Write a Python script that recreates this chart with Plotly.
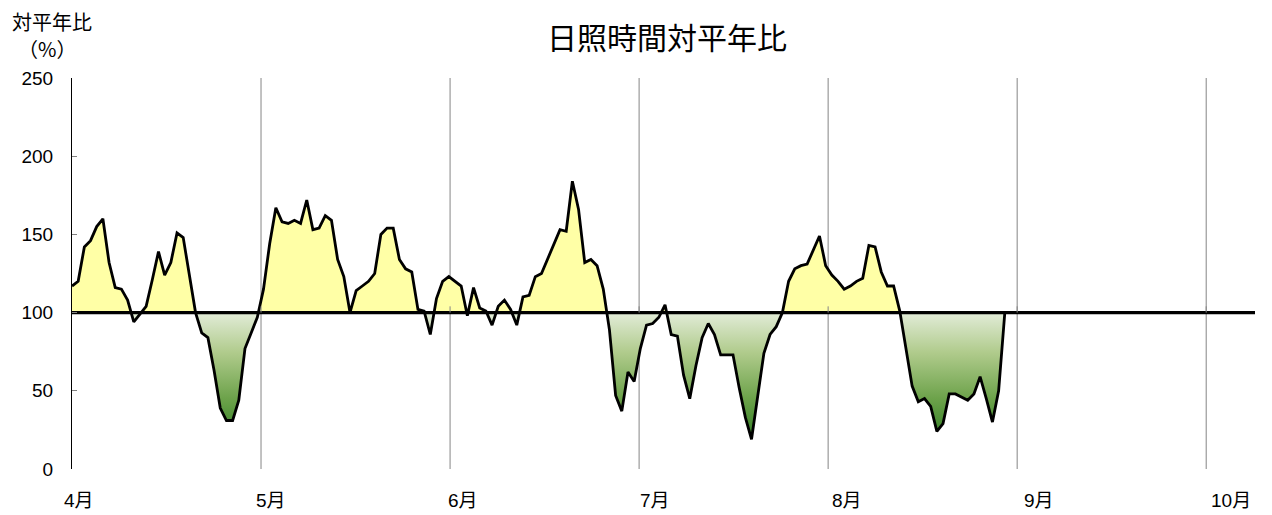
import numpy as np
import plotly.graph_objects as go

# ---- data: daily sunshine-duration ratio to normal (%) from April 1 ----
APR = [117, 120, 142, 146, 155, 160, 132, 116, 115, 108, 94, 99, 104, 121, 139,
       124, 132, 151, 148, 124, 100, 87, 84, 63, 39, 31, 31, 44, 77, 87]
MAY = [97, 115, 144, 167, 158, 157, 159, 157, 172, 153, 154, 162, 159, 134, 123,
       100, 114, 117, 120, 125, 150, 154, 154, 134, 128, 126, 102, 101, 86, 109, 120]
JUN = [123, 120, 117, 98, 116, 103, 101, 92, 104, 108, 102, 92, 110, 111, 123,
       125, 134, 144, 153, 152, 184, 166, 132, 134, 130, 115, 89, 47, 37, 62]
JUL = [56, 77, 92, 93, 97, 105, 86, 85, 60, 45, 66, 84, 93, 86, 73, 73, 73, 52,
       33, 19, 46, 74, 86, 91, 100, 120, 128, 130, 131, 140, 149]
AUG = [130, 124, 120, 115, 117, 120, 122, 143, 142, 126, 117, 117, 101, 78, 53,
       43, 45, 40, 24, 29, 48, 48, 46, 44, 48, 59, 45, 30, 50, 100]

MONTH_LABELS = ["4月", "5月", "6月", "7月", "8月", "9月", "10月"]
Y_TICKS = [0, 50, 100, 150, 200, 250]
BASE = 100

TITLE = "日照時間対平年比"
Y_TITLE_1 = "対平年比"
Y_TITLE_2 = "（%）"

values = APR + MAY + JUN + JUL + AUG
x = list(range(len(values)))

# layout geometry (days per month gridline, axis extent, label placement)
DAYS_PER_GRID = 30.6
X_MAX = 191.5
LABEL_OFFSET, LABEL_STEP = 1.2, 31.07
grid_pos = [i * DAYS_PER_GRID for i in range(len(MONTH_LABELS))]
label_pos = [LABEL_OFFSET + i * LABEL_STEP for i in range(len(MONTH_LABELS))]

# insert baseline crossing points so fills split cleanly at 100
xs, ys = [x[0]], [values[0]]
for i in range(1, len(values)):
    y0, y1 = values[i - 1], values[i]
    if (y0 - BASE) * (y1 - BASE) < 0:
        t = (BASE - y0) / (y1 - y0)
        xs.append(x[i - 1] + t)
        ys.append(BASE)
    xs.append(x[i])
    ys.append(y1)
ys = np.array(ys, dtype=float)
upper = np.maximum(ys, BASE)
lower = np.minimum(ys, BASE)
base_line = [BASE] * len(xs)

fig = go.Figure()
fig.add_trace(go.Scatter(x=xs, y=base_line, mode="lines", line=dict(width=0),
                         hoverinfo="skip", showlegend=False))
fig.add_trace(go.Scatter(x=xs, y=upper, mode="lines", line=dict(width=0),
                         fill="tonexty", fillcolor="#FFFFA6",
                         hoverinfo="skip", showlegend=False))
fig.add_trace(go.Scatter(x=xs, y=base_line, mode="lines", line=dict(width=0),
                         hoverinfo="skip", showlegend=False))
fig.add_trace(go.Scatter(x=xs, y=lower, mode="lines", line=dict(width=0),
                         fill="tonexty",
                         fillgradient=dict(type="vertical", start=15, stop=100,
                                           colorscale=[[0, "#2A7A20"],
                                                       [0.35, "#6CA24A"],
                                                       [0.7, "#B0CB8C"],
                                                       [1, "#E2ECD8"]]),
                         hoverinfo="skip", showlegend=False))
fig.add_trace(go.Scatter(x=x, y=values, mode="lines",
                         line=dict(color="black", width=2.8),
                         showlegend=False))
fig.add_trace(go.Scatter(x=[0, X_MAX], y=[BASE, BASE], mode="lines",
                         line=dict(color="black", width=3.2),
                         hoverinfo="skip", showlegend=False))

shapes = []
for g in grid_pos[1:]:
    shapes.append(dict(type="line", xref="x", yref="y", x0=g, x1=g, y0=0, y1=250,
                       line=dict(color="#858585", width=1), layer="below"))
    shapes.append(dict(type="line", xref="x", yref="y", x0=g, x1=g, y0=BASE, y1=BASE + 4,
                       line=dict(color="#858585", width=1), layer="above"))

W, H = 1272, 515
ML, MR, MT, MB = 72, 17, 78, 46
pw, ph = W - ML - MR, H - MT - MB


def px_to_paper(px, py):
    return (px - ML) / pw, 1 - (py - MT) / ph


annotations = []
for txt, cx, cy in [(Y_TITLE_1, 52, 22), (Y_TITLE_2, 47, 49)]:
    ax, ay = px_to_paper(cx, cy)
    annotations.append(dict(text=txt, x=ax, y=ay, xref="paper", yref="paper",
                            showarrow=False, xanchor="center", yanchor="middle",
                            font=dict(size=20, color="black",
                                      family="Noto Sans CJK JP")))

for lp, lab in zip(label_pos, MONTH_LABELS):
    annotations.append(dict(text=lab, x=lp, y=0, xref="x", yref="y", showarrow=False,
                            xanchor="center", yanchor="middle", yshift=-31,
                            font=dict(size=19, color="black",
                                      family="Liberation Sans, Noto Sans CJK JP")))

fig.update_layout(
    width=W, height=H,
    margin=dict(l=ML, r=MR, t=MT, b=MB),
    paper_bgcolor="white", plot_bgcolor="white",
    title=dict(text=TITLE, x=667 / W, xanchor="center", y=1 - 38 / H, yanchor="middle",
               font=dict(size=30, color="black", family="Noto Sans CJK JP")),
    xaxis=dict(range=[0, X_MAX], showgrid=False, zeroline=False, showline=False,
               showticklabels=False, ticks=""),
    yaxis=dict(range=[0, 250], tickvals=Y_TICKS, showgrid=False, zeroline=False,
               showline=True, linecolor="black", linewidth=1,
               ticks="inside", ticklen=5, tickcolor="#808080",
               ticklabelstandoff=14,
               tickfont=dict(size=19, color="black", family="Liberation Sans")),
    shapes=shapes,
    annotations=annotations,
    showlegend=False,
)

fig.write_html("out.html",
               config={"displayModeBar": False},
               post_script="document.body.style.margin='0px';"
                           "document.body.style.padding='0px';")
